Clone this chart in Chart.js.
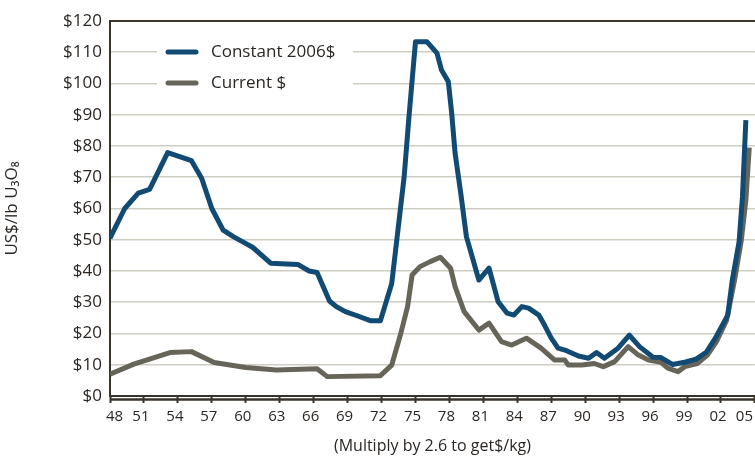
<!DOCTYPE html>
<html>
<head>
<meta charset="utf-8">
<script src="https://cdn.jsdelivr.net/npm/chart.js@4.4.1/dist/chart.umd.min.js"></script>
<style>
  html, body { margin: 0; padding: 0; background: #fff; overflow: hidden; }
  canvas { display: block; }
</style>
</head>
<body>
<canvas id="chart" width="776" height="459"></canvas>
<script>
// values (x in axis years, y in US$/lb)
const constantYears = [1948, 1949.3, 1950.5, 1951.5, 1953.1, 1955.2, 1956.1, 1957.0, 1958.0, 1958.9, 1959.7, 1960.6, 1962.2, 1964.6, 1965.6, 1966.3, 1967.4, 1968.0, 1968.8, 1969.9, 1971.0, 1971.9, 1972.9, 1974.0, 1974.4, 1975.0, 1976.0, 1976.9, 1977.3, 1977.9, 1978.2, 1978.5, 1979.0, 1979.5, 1980.6, 1981.5, 1982.3, 1983.1, 1983.7, 1984.4, 1985.0, 1985.9, 1986.4, 1987.0, 1987.6, 1988.2, 1989.4, 1990.3, 1991.0, 1991.7, 1992.9, 1993.9, 1994.8, 1996.0, 1996.7, 1997.7, 1998.8, 1999.8, 2000.7, 2001.5, 2002.6, 2003.0, 2003.6, 2003.9, 2004.2];
const constantValues = [50.5, 60, 64.9, 66.1, 77.9, 75.3, 69.7, 60, 53.1, 51, 49.4, 47.6, 42.5, 42.1, 40, 39.5, 30.4, 28.6, 27, 25.6, 24.1, 24.1, 36, 70.2, 88.3, 113.4, 113.4, 109.7, 104.3, 100.6, 90.5, 77.7, 64.9, 51, 37.1, 40.9, 30.2, 26.5, 25.9, 28.6, 28.1, 25.9, 22.7, 18.5, 15.3, 14.7, 12.8, 12.1, 13.9, 12.1, 15.3, 19.5, 15.8, 12.4, 12.3, 10.1, 10.8, 11.8, 14, 18.5, 25.9, 37.1, 49.4, 63.8, 88.3];

const currentYears = [1948, 1950.1, 1953.3, 1955.2, 1957.2, 1960.0, 1962.7, 1966.3, 1967.2, 1971.9, 1972.9, 1973.7, 1974.3, 1974.7, 1975.4, 1976.3, 1977.2, 1978.1, 1978.5, 1979.3, 1980.6, 1981.5, 1982.6, 1983.5, 1984.8, 1986.1, 1987.3, 1988.2, 1988.5, 1989.7, 1990.8, 1991.6, 1992.6, 1993.8, 1994.7, 1995.6, 1996.7, 1997.3, 1998.2, 1998.8, 1999.9, 2000.8, 2001.6, 2002.5, 2003.2, 2003.8, 2004.2, 2004.5];
const currentValues = [7.0, 10.2, 13.9, 14.2, 10.7, 9.1, 8.3, 8.7, 6.2, 6.5, 9.9, 20, 28.6, 38.7, 41.4, 43, 44.4, 40.9, 35, 27, 21.1, 23.3, 17.4, 16.3, 18.5, 15.3, 11.5, 11.5, 9.9, 9.9, 10.4, 9.4, 11, 15.8, 13.1, 11.5, 10.8, 8.9, 7.8, 9.4, 10.4, 13.1, 17.4, 24.3, 37.1, 49.9, 62.7, 79.5];

const seriesNames = ["Constant 2006$", "Current $"];
const yTicks = [0, 10, 20, 30, 40, 50, 60, 70, 80, 90, 100, 110, 120];
const xFirstYear = 1948;
const xLastYear = 2005;
const xStep = 3;

const BLUE = "#114a72";
const GREY = "#67655a";
const DARK = "#3b342c";
const TEXT = "#2b2622";
const GRID = "#cfcdc1";
const FONT = "'Open Sans', 'Noto Sans', sans-serif";

function points(xs, ys) {
  return xs.map((x, i) => ({ x: x, y: ys[i] }));
}

function yearLabel(v) {
  const s = String(v % 100).padStart(2, "0");
  // end labels sit a little inward in the original
  if (v === xFirstYear) return "\u2003" + s;
  if (v === xLastYear) return s + "\u2003";
  return s;
}

// white legend box inside the plot, lines + labels
const boxLegend = {
  id: "boxLegend",
  afterDatasetsDraw(chart) {
    const ctx = chart.ctx;
    const a = chart.chartArea;
    ctx.save();
    ctx.fillStyle = "#fff";
    ctx.fillRect(a.left + 47, a.top + 2, 196, 78);
    chart.data.datasets.forEach((ds, i) => {
      const y = a.top + 31 + i * 31;
      ctx.strokeStyle = ds.borderColor;
      ctx.lineWidth = 5;
      ctx.lineCap = "round";
      ctx.beginPath();
      ctx.moveTo(a.left + 58, y);
      ctx.lineTo(a.left + 86, y);
      ctx.stroke();
      ctx.fillStyle = TEXT;
      ctx.font = "17px " + FONT;
      ctx.textBaseline = "middle";
      ctx.fillText(ds.label, a.left + 101, y);
    });
    // second axis rule under the plot
    ctx.strokeStyle = DARK;
    ctx.lineWidth = 2.5;
    ctx.lineCap = "butt";
    ctx.beginPath();
    ctx.moveTo(a.left, a.bottom + 3.5);
    ctx.lineTo(chart.width, a.bottom + 3.5);
    ctx.stroke();
    ctx.restore();
  },
};

function createChart() {
  return new Chart(document.getElementById("chart").getContext("2d"), {
    type: "line",
    data: {
      datasets: [
        {
          label: seriesNames[0],
          data: points(constantYears, constantValues),
          borderColor: BLUE,
          borderWidth: 5,
          borderJoinStyle: "round",
          pointRadius: 0,
          tension: 0,
        },
        {
          label: seriesNames[1],
          data: points(currentYears, currentValues),
          borderColor: GREY,
          borderWidth: 5,
          borderJoinStyle: "round",
          pointRadius: 0,
          tension: 0,
        },
      ],
    },
    options: {
      responsive: false,
      animation: false,
      layout: { padding: { top: 21, right: 18.6, left: 0, bottom: 0 } },
      plugins: { legend: { display: false }, tooltip: { enabled: false } },
      scales: {
        x: {
          type: "linear",
          min: xFirstYear,
          max: xLastYear,
          afterFit: (s) => { s.height = 63; },
          afterBuildTicks: (s) => {
            const t = [];
            for (let y = xFirstYear; y <= xLastYear; y += xStep) t.push({ value: y });
            s.ticks = t;
          },
          grid: {
            drawOnChartArea: false,
            drawTicks: true,
            tickLength: 7,
            tickColor: DARK,
            tickWidth: 2,
          },
          border: { display: true, color: DARK, width: 2 },
          ticks: {
            autoSkip: false,
            maxRotation: 0,
            padding: 5,
            labelOffset: -3,
            color: TEXT,
            font: { family: FONT, size: 15 },
            callback: yearLabel,
          },
          title: {
            display: true,
            text: "(Multiply by 2.6 to get$/kg)",
            color: TEXT,
            font: { family: FONT, size: 16 },
            padding: { top: 0, bottom: 3 },
          },
        },
        y: {
          min: 0,
          max: 120,
          afterFit: (s) => { s.width = 110; },
          afterBuildTicks: (s) => { s.ticks = yTicks.map((v) => ({ value: v })); },
          grid: {
            drawTicks: false,
            color: (c) => (c.tick && c.tick.value === 120 ? DARK : GRID),
            lineWidth: (c) => (c.tick && c.tick.value === 120 ? 2 : 1.6),
          },
          border: { display: true, color: DARK, width: 2 },
          ticks: {
            padding: 8,
            color: TEXT,
            font: { family: FONT, size: 17 },
            callback: (v) => "$" + v,
          },
          title: {
            display: true,
            text: "US$/lb U₃O₈",
            color: TEXT,
            font: { family: FONT, size: 17 },
            padding: { top: 2, bottom: 0 },
          },
        },
      },
    },
    plugins: [boxLegend],
  });
}

createChart();
</script>
</body>
</html>
